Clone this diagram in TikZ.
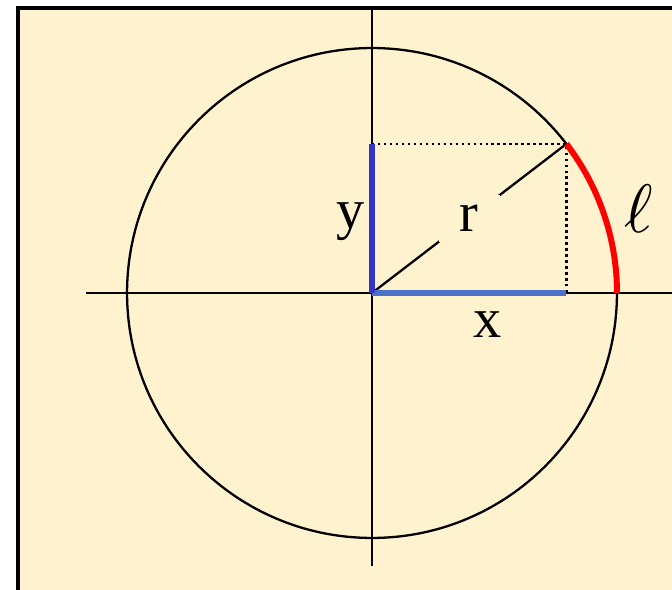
\documentclass[tikz,border=0pt]{standalone}
\usepackage{fontspec}
\setmainfont{Liberation Serif}
\usepackage{xcolor}
\usepackage{tikz}
\usetikzlibrary{positioning}

\definecolor{paper}{HTML}{FFF2CF}
\definecolor{ydark}{HTML}{3434C8}
\definecolor{xlight}{HTML}{4A72C8}
\definecolor{arcred}{HTML}{FF0000}

\begin{document}
\begin{tikzpicture}[
  x=0.02cm, y=-0.02cm,
  axis/.style={line width=1.3pt},
  leg/.style={line width=2.9pt},
  guide/.style={line width=1.4pt, dotted},
  label/.style={inner sep=0pt, font=\fontsize{32}{34}\selectfont}
]
\useasboundingbox (0,0) rectangle (672,590);
\clip (0,0) rectangle (672,590);
\fill[paper] (18,8) rectangle (690,610);
\draw[line width=2pt] (18,610) -- (18,8) -- (690,8);

\coordinate (O) at (372,293);
\coordinate (P) at (566.4,143.9);
\coordinate (Px) at (566.4,293);
\coordinate (Py) at (372,143.9);
\coordinate (A) at (617,293);
\coordinate (xl) at (86,293);
\coordinate (xr) at (672,293);
\coordinate (yt) at (372,8);
\coordinate (yb) at (372,566);

\draw[axis] (xl) -- (xr);
\draw[axis] (yt) -- (yb);
\draw[axis] (O) circle[radius=4.9cm];

\draw[guide] (Py) -- (P) -- (Px);
\draw[axis] (O) -- node[label, fill=paper, minimum width=1.22cm, minimum height=0.95cm] (rlab) {r} (P);
\draw[leg, xlight] (O) -- (Px);
\draw[leg, ydark] (O) -- (Py);
\draw[line width=3.4pt, arcred] (A) arc[start angle=0, end angle=37.5, radius=4.9cm];

\node[label, anchor=base] (ylab) at (351,229) {y};
\node[label, anchor=base] (xlab) at (488,338) {x};
\node[inner sep=0pt, scale=3.9] (ell) at (639,209) {$\ell$};
\end{tikzpicture}
\end{document}
